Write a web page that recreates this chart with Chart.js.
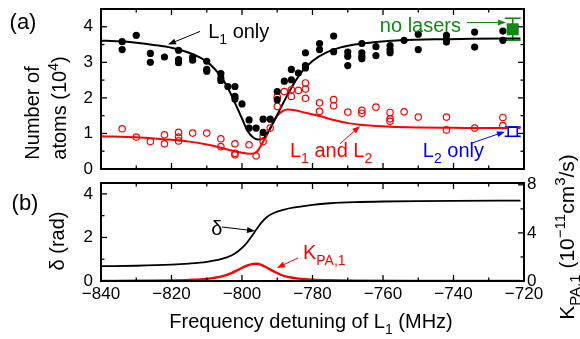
<!DOCTYPE html>
<html>
<head>
<meta charset="utf-8">
<script src="https://cdn.jsdelivr.net/npm/chart.js@4.4.0/dist/chart.umd.min.js"></script>
<style>
html, body { margin: 0; padding: 0; background: #fff; }
#wrap { position: relative; width: 580px; height: 339px; }
canvas { position: absolute; left: 0; top: 0; }
</style>
</head>
<body>
<div id="wrap">
  <canvas id="panelA" width="580" height="339"></canvas>
  <canvas id="panelB" width="580" height="339"></canvas>
</div>
<script>
// ---- data ----
const xTicks = [-840, -830, -820, -810, -800, -790, -780, -770, -760, -750, -740, -730, -720];
const xLabels = [-840, -820, -800, -780, -760, -740, -720];
const atomTicks = [0, 0.5, 1, 1.5, 2, 2.5, 3, 3.5, 4];
const atomLabels = [0, 1, 2, 3, 4];
const deltaTicks = [0, 1, 2, 3, 4];
const deltaLabels = [0, 2, 4];
const kTicks = [0, 2, 4, 6, 8];
const kLabels = [0, 4, 8];

// (a) L1 only, measured
const l1Freq = [-834, -834, -830, -826, -826, -822, -818, -818, -818, -814, -814, -810, -810, -810,
  -806, -806, -806, -804, -802, -802, -802, -800, -798, -798, -796, -794, -794, -792, -790, -790,
  -788, -786, -786, -784, -782, -782, -782, -778, -778, -774, -774, -770, -770, -770, -766, -766,
  -766, -766, -762, -762, -758, -758, -758, -754, -750, -750, -742, -742, -742, -734, -734, -726, -726];
const l1Atoms = [3.58, 3.36, 3.76, 3.25, 3.00, 3.15, 3.34, 3.08, 2.99, 3.15, 3.06, 3.03, 2.80, 2.75,
  2.68, 2.56, 2.49, 2.32, 2.32, 2.04, 1.97, 1.83, 1.38, 1.15, 1.15, 1.40, 1.03, 1.40, 2.18, 1.95,
  2.47, 2.80, 2.51, 2.70, 2.91, 2.84, 3.27, 3.53, 3.36, 3.74, 3.30, 3.29, 3.17, 2.91, 3.53, 3.27,
  3.17, 3.10, 3.44, 3.19, 3.47, 3.36, 3.27, 3.62, 3.79, 3.36, 3.76, 3.64, 3.57, 3.85, 3.43, 3.88, 3.62];

// (a) L1 and L2, measured
const bothFreq = [-834, -830, -826, -822, -822, -818, -818, -818, -814, -810, -806, -806, -802, -802,
  -802, -798, -796, -794, -794, -792, -790, -790, -788, -786, -786, -784, -782, -782, -782, -778,
  -778, -774, -774, -770, -766, -766, -762, -758, -758, -758, -754, -750, -742, -742, -734, -726, -726];
const bothAtoms = [1.13, 0.90, 0.77, 0.96, 0.71, 1.03, 0.90, 0.79, 1.01, 1.01, 0.85, 0.63, 0.71, 0.44,
  0.40, 0.68, 0.37, 0.77, 0.93, 1.15, 2.03, 1.76, 2.18, 2.23, 2.04, 2.21, 2.42, 2.25, 1.99, 1.86,
  1.62, 1.95, 1.78, 1.60, 1.65, 1.57, 1.74, 1.59, 1.41, 1.34, 1.61, 1.46, 1.46, 1.10, 1.15, 1.45, 1.22];

// reference points at the right edge
const noLaserFreq = [-723.2];
const noLaserAtoms = [3.93];
const noLaserErr = [0.31];
const l2OnlyFreq = [-723.2];
const l2OnlyAtoms = [1.05];
const l2OnlyErr = [0.13];

// (a) fitted curves
const l1FitFreq = [-840, -835, -830, -825, -820, -815, -812, -810, -808, -806, -804, -802, -800,
  -798.5, -797, -795.5, -794, -792.5, -791, -789, -787, -785, -783, -780, -776, -772, -768, -762,
  -755, -745, -735, -721];
const l1FitAtoms = [3.61, 3.59, 3.55, 3.49, 3.41, 3.27, 3.14, 3.02, 2.84, 2.60, 2.28, 1.86, 1.42,
  1.08, 0.90, 0.83, 0.86, 1.05, 1.33, 1.72, 2.10, 2.45, 2.74, 3.04, 3.28, 3.42, 3.50, 3.57,
  3.62, 3.65, 3.66, 3.67];
const bothFitFreq = [-840, -830, -825, -820, -815, -810, -806, -803, -800, -798, -796.5, -795.5,
  -794.5, -793, -791.5, -790, -788.5, -787, -785, -782, -778, -774, -770, -765, -758, -750, -740,
  -730, -721];
const bothFitAtoms = [0.92, 0.89, 0.86, 0.82, 0.77, 0.69, 0.60, 0.52, 0.46, 0.43, 0.44, 0.52,
  0.68, 0.95, 1.25, 1.50, 1.63, 1.67, 1.65, 1.58, 1.49, 1.38, 1.29, 1.23, 1.19, 1.17, 1.16,
  1.15, 1.15];

// (b) phase shift and PA rate
const deltaFreq = [-840, -830, -820, -815, -810, -806, -803, -801, -799, -797.5, -796, -794.5,
  -793, -791, -788, -785, -780, -775, -768, -760, -750, -740, -721];
const deltaRad = [0.68, 0.70, 0.75, 0.80, 0.88, 1.00, 1.17, 1.38, 1.68, 2.00, 2.35, 2.68,
  2.93, 3.12, 3.28, 3.38, 3.50, 3.57, 3.62, 3.65, 3.67, 3.68, 3.69];
const kFreq = [-840, -830, -820, -815, -810, -806, -803, -801, -799, -797.5, -796, -794.5, -793,
  -791, -789, -787, -784, -780, -775, -765, -750, -735, -721];
const kRate = [0.0, 0.02, 0.05, 0.09, 0.18, 0.36, 0.65, 0.95, 1.24, 1.38, 1.43, 1.34, 1.12,
  0.80, 0.52, 0.34, 0.20, 0.11, 0.06, 0.03, 0.01, 0.0, 0.0];

const RED = '#ff0000';
const GREEN = '#118a11';
const BLUE = '#0000ff';
const FONT = '"Liberation Sans", Arial, Helvetica, sans-serif';

const pts = (xs, ys) => xs.map((x, i) => ({ x: x, y: ys[i] }));
const fmt = v => (v < 0 ? '\u2212' + Math.abs(v) : String(v));

function partFont(p, size) {
  const s = p[1] ? Math.round(size * 0.7) : size;
  return s + 'px ' + FONT;
}

function drawRich(ctx, parts, x, y, o) {
  const size = o.size || 20;
  ctx.save();
  ctx.translate(x, y);
  if (o.rot) ctx.rotate(o.rot);
  ctx.fillStyle = o.color || '#000';
  ctx.textAlign = 'left';
  ctx.textBaseline = 'alphabetic';
  let w = 0;
  parts.forEach(p => { ctx.font = partFont(p, size); w += ctx.measureText(p[0]).width; });
  let cx = o.align === 'center' ? -w / 2 : 0;
  const base = size * 0.36;
  parts.forEach(p => {
    ctx.font = partFont(p, size);
    const dy = p[1] === 'sub' ? size * 0.3 : p[1] === 'sup' ? -size * 0.42 : 0;
    ctx.fillText(p[0], cx, base + dy);
    cx += ctx.measureText(p[0]).width;
  });
  ctx.restore();
}

function drawArrow(ctx, x1, y1, x2, y2, color) {
  const ang = Math.atan2(y2 - y1, x2 - x1);
  const hl = 8, hw = 3;
  ctx.strokeStyle = color;
  ctx.fillStyle = color;
  ctx.lineWidth = 1;
  ctx.beginPath();
  ctx.moveTo(x1, y1);
  ctx.lineTo(x2 - hl * 0.8 * Math.cos(ang), y2 - hl * 0.8 * Math.sin(ang));
  ctx.stroke();
  ctx.beginPath();
  ctx.moveTo(x2, y2);
  ctx.lineTo(x2 - hl * Math.cos(ang) + hw * Math.sin(ang), y2 - hl * Math.sin(ang) - hw * Math.cos(ang));
  ctx.lineTo(x2 - hl * Math.cos(ang) - hw * Math.sin(ang), y2 - hl * Math.sin(ang) + hw * Math.cos(ang));
  ctx.closePath();
  ctx.fill();
}

function line(ctx, x1, y1, x2, y2) {
  ctx.beginPath();
  ctx.moveTo(x1, y1);
  ctx.lineTo(x2, y2);
  ctx.stroke();
}

// frame, inward ticks, error bars, arrows and labels
function deco(cfg) {
  return {
    id: 'deco',
    beforeDatasetsDraw(chart) {
      const ctx = chart.ctx, xs = chart.scales.x, yl = chart.scales.y;
      ctx.save();
      (cfg.errs || []).forEach(e => {
        const px = xs.getPixelForValue(e.x);
        const lo = yl.getPixelForValue(e.y - e.err), hi = yl.getPixelForValue(e.y + e.err);
        ctx.strokeStyle = e.color;
        ctx.lineWidth = 1.6;
        line(ctx, px, lo, px, hi);
        line(ctx, px - 8, lo, px + 8, lo);
        line(ctx, px - 8, hi, px + 8, hi);
      });
      ctx.restore();
    },
    afterDatasetsDraw(chart) {
      const ctx = chart.ctx, a = chart.chartArea;
      const xs = chart.scales.x, yl = chart.scales.y, yr = chart.scales[cfg.right] || yl;
      ctx.save();
      ctx.strokeStyle = '#000';
      ctx.lineWidth = 1.3;
      xTicks.forEach(v => {
        const px = xs.getPixelForValue(v);
        const len = xLabels.includes(v) ? 6 : 3.5;
        line(ctx, px, a.bottom, px, a.bottom - len);
        line(ctx, px, a.top, px, a.top + len);
      });
      cfg.leftTicks.forEach(v => {
        const py = yl.getPixelForValue(v);
        const len = cfg.leftLabels.includes(v) ? 6 : 3.5;
        line(ctx, a.left, py, a.left + len, py);
        if (!cfg.right) line(ctx, a.right, py, a.right - len, py);
      });
      if (cfg.right) {
        cfg.rightTicks.forEach(v => {
          const py = yr.getPixelForValue(v);
          const len = cfg.rightLabels.includes(v) ? 6 : 3.5;
          line(ctx, a.right, py, a.right - len, py);
        });
      }
      ctx.lineWidth = 2;
      ctx.strokeRect(a.left, a.top, a.right - a.left, a.bottom - a.top);
      (cfg.arrows || []).forEach(r => {
        drawArrow(ctx, xs.getPixelForValue(r.x1), yl.getPixelForValue(r.y1),
          xs.getPixelForValue(r.x2), yl.getPixelForValue(r.y2), r.color);
      });
      (cfg.notes || []).forEach(n => {
        drawRich(ctx, n.parts, xs.getPixelForValue(n.x), yl.getPixelForValue(n.y),
          { color: n.color, size: 20 });
      });
      (cfg.titles || []).forEach(t => {
        drawRich(ctx, t.parts, t.px, t.py, { size: t.size || 20, rot: t.rot, align: 'center', color: '#000' });
      });
      ctx.restore();
    }
  };
}

const tickFont = { family: FONT, size: 17 };

new Chart(document.getElementById('panelA'), {
  type: 'scatter',
  data: {
    datasets: [
      { data: pts(l1Freq, l1Atoms), pointRadius: 3.6, pointBackgroundColor: '#000',
        pointBorderColor: '#000', pointBorderWidth: 0 },
      { data: pts(bothFreq, bothAtoms), pointRadius: 3.2, pointBackgroundColor: 'rgba(0,0,0,0)',
        pointBorderColor: RED, pointBorderWidth: 1.2 },
      { data: pts(noLaserFreq, noLaserAtoms), pointStyle: 'rect', pointRadius: 8.5,
        pointBackgroundColor: GREEN, pointBorderColor: GREEN, pointBorderWidth: 0 },
      { data: pts(l2OnlyFreq, l2OnlyAtoms), pointStyle: 'rect', pointRadius: 6.4,
        pointBackgroundColor: '#fff', pointBorderColor: BLUE, pointBorderWidth: 1.6 },
      { data: pts(l1FitFreq, l1FitAtoms), showLine: true, pointRadius: 0, borderColor: '#000',
        borderWidth: 2, cubicInterpolationMode: 'monotone' },
      { data: pts(bothFitFreq, bothFitAtoms), showLine: true, pointRadius: 0, borderColor: RED,
        borderWidth: 2, cubicInterpolationMode: 'monotone' }
    ]
  },
  options: {
    responsive: false,
    animation: false,
    layout: { padding: { left: 0, top: 9, right: 56, bottom: 170 } },
    plugins: { legend: { display: false }, tooltip: { enabled: false } },
    scales: {
      x: { type: 'linear', min: -840, max: -720, display: false },
      y: {
        min: 0, max: 4.5,
        afterBuildTicks: s => { s.ticks = atomLabels.map(v => ({ value: v })); },
        afterFit: s => { s.width = 101; s.paddingTop = 0; s.paddingBottom = 0; },
        grid: { display: false, drawTicks: false },
        border: { display: false },
        ticks: { font: tickFont, color: '#000', padding: 8, callback: fmt }
      }
    }
  },
  plugins: [deco({
    leftTicks: atomTicks, leftLabels: atomLabels,
    errs: [
      { x: noLaserFreq[0], y: noLaserAtoms[0], err: noLaserErr[0], color: GREEN },
      { x: l2OnlyFreq[0], y: l2OnlyAtoms[0], err: l2OnlyErr[0], color: BLUE }
    ],
    arrows: [
      { x1: -811.9, y1: 3.87, x2: -821.0, y2: 3.50, color: '#000' },
      { x1: -772.2, y1: 0.71, x2: -766.5, y2: 1.21, color: RED },
      { x1: -734.8, y1: 0.73, x2: -725.4, y2: 1.05, color: BLUE },
      { x1: -736.2, y1: 4.12, x2: -725.1, y2: 4.12, color: GREEN }
    ],
    notes: [
      { x: -809.6, y: 3.88, color: '#000', parts: [['L'], ['1', 'sub'], [' only']] },
      { x: -786.4, y: 0.55, color: RED, parts: [['L'], ['1', 'sub'], [' and L'], ['2', 'sub']] },
      { x: -748.7, y: 0.55, color: BLUE, parts: [['L'], ['2', 'sub'], [' only']] },
      { x: -760.9, y: 4.05, color: GREEN, parts: [['no lasers']] }
    ],
    titles: [
      { px: 23, py: 21, size: 22, parts: [['(a)']] },
      { px: 32, py: 113, rot: -Math.PI / 2, parts: [['Number of']] },
      { px: 59, py: 108, rot: -Math.PI / 2, parts: [['atoms (10'], ['4', 'sup'], [')']] }
    ]
  })]
});

new Chart(document.getElementById('panelB'), {
  type: 'scatter',
  data: {
    datasets: [
      { data: pts(deltaFreq, deltaRad), yAxisID: 'y', showLine: true, pointRadius: 0,
        borderColor: '#000', borderWidth: 1.8, cubicInterpolationMode: 'monotone' },
      { data: pts(kFreq, kRate), yAxisID: 'y2', showLine: true, pointRadius: 0,
        borderColor: RED, borderWidth: 2.4, cubicInterpolationMode: 'monotone' }
    ]
  },
  options: {
    responsive: false,
    animation: false,
    layout: { padding: { left: 0, top: 183, right: 0, bottom: 0 } },
    plugins: { legend: { display: false }, tooltip: { enabled: false } },
    scales: {
      x: {
        type: 'linear', min: -840, max: -720, position: 'bottom',
        afterBuildTicks: s => { s.ticks = xLabels.map(v => ({ value: v })); },
        afterFit: s => { s.height = 58; s.paddingLeft = 0; s.paddingRight = 0; },
        grid: { display: false, drawTicks: false },
        border: { display: false },
        ticks: { font: tickFont, color: '#000', padding: 3, maxRotation: 0, callback: fmt }
      },
      y: {
        position: 'left', min: 0, max: 4.5,
        afterBuildTicks: s => { s.ticks = deltaLabels.map(v => ({ value: v })); },
        afterFit: s => { s.width = 101; s.paddingTop = 0; s.paddingBottom = 0; },
        grid: { display: false, drawTicks: false },
        border: { display: false },
        ticks: { font: tickFont, color: '#000', padding: 8, callback: fmt }
      },
      y2: {
        position: 'right', min: 0, max: 8.15,
        afterBuildTicks: s => { s.ticks = kLabels.map(v => ({ value: v })); },
        afterFit: s => { s.width = 56; s.paddingTop = 0; s.paddingBottom = 0; },
        grid: { display: false, drawTicks: false },
        border: { display: false },
        ticks: { font: tickFont, color: '#000', padding: 3, callback: fmt }
      }
    }
  },
  plugins: [deco({
    leftTicks: deltaTicks, leftLabels: deltaLabels,
    right: 'y2', rightTicks: kTicks, rightLabels: kLabels,
    arrows: [
      { x1: -805.7, y1: 2.48, x2: -796.3, y2: 2.30, color: '#000' },
      { x1: -784.1, y1: 1.06, x2: -790.1, y2: 0.60, color: RED }
    ],
    notes: [
      { x: -808.7, y: 2.44, color: '#000', parts: [['\u03b4']] },
      { x: -782.7, y: 1.33, color: RED, parts: [['K'], ['PA,1', 'sub']] }
    ],
    titles: [
      { px: 25, py: 202, size: 22, parts: [['(b)']] },
      { px: 57, py: 241, rot: -Math.PI / 2, parts: [['\u03b4 (rad)']] },
      { px: 566, py: 237, rot: -Math.PI / 2, size: 21,
        parts: [['K'], ['PA,1', 'sub'], [' (10'], ['\u221211', 'sup'], ['cm'], ['3', 'sup'], ['/s)']] },
      { px: 311, py: 321, parts: [['Frequency detuning of L'], ['1', 'sub'], [' (MHz)']] }
    ]
  })]
});
</script>
</body>
</html>
